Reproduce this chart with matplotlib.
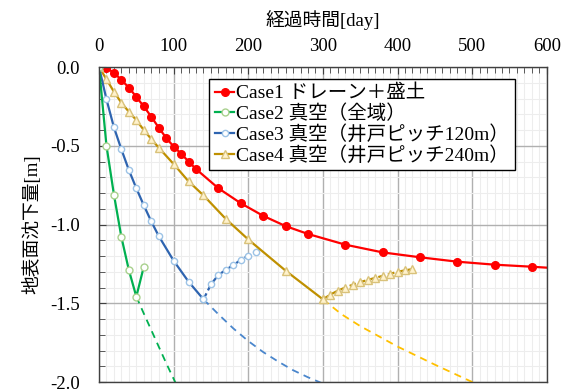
import numpy as np
import matplotlib
matplotlib.use("Agg")
from matplotlib import pyplot as plt
from matplotlib.ticker import MultipleLocator, FormatStrFormatter

plt.rcParams['font.family'] = ['Liberation Serif', 'Noto Sans CJK JP']
plt.rcParams['axes.unicode_minus'] = False

# Case1 drain + embankment
c1_day = [0, 10, 20, 30, 40, 50, 60, 70, 80, 90, 100, 110, 120, 130, 160, 190, 220, 250, 280,
          330, 380, 430, 480, 530, 580, 600]
c1_val = [0, -0.008, -0.035, -0.083, -0.13, -0.19, -0.25, -0.315, -0.385, -0.45, -0.505, -0.55,
          -0.60, -0.648, -0.77, -0.865, -0.945, -1.01, -1.06, -1.128, -1.177, -1.208, -1.236,
          -1.255, -1.268, -1.274]

# Case2 vacuum (whole area)
c2_day = [0, 10, 20, 30, 40, 50, 60]
c2_val = [0, -0.50, -0.81, -1.08, -1.289, -1.458, -1.268]
c2_ext_day = [50, 60, 70, 80, 90, 100, 110]
c2_ext_val = [-1.458, -1.565, -1.67, -1.775, -1.88, -1.98, -2.08]

# Case3 vacuum (well pitch 120m)
c3_day = [0, 10, 20, 30, 40, 50, 60, 70, 80, 100, 120, 140]
c3_val = [0, -0.205, -0.383, -0.523, -0.654, -0.77, -0.878, -0.98, -1.073, -1.23, -1.363, -1.475]
c3_reb_day = [140, 150, 160, 170, 180, 190, 200, 210]
c3_reb_val = [-1.475, -1.38, -1.32, -1.288, -1.257, -1.225, -1.198, -1.172]
c3_ext_day = [140, 160, 180, 200, 220, 240, 260, 280, 300]
c3_ext_val = [-1.475, -1.57, -1.66, -1.74, -1.81, -1.87, -1.925, -1.97, -2.01]

# Case4 vacuum (well pitch 240m)
c4_day = [0, 10, 20, 30, 40, 50, 60, 70, 80, 100, 120, 140, 170, 200, 250, 300]
c4_val = [0, -0.078, -0.157, -0.227, -0.284, -0.337, -0.40, -0.457, -0.512, -0.616, -0.726,
          -0.815, -0.965, -1.095, -1.293, -1.475]
c4_reb_day = [300, 310, 320, 330, 340, 350, 360, 370, 380, 390, 400, 410, 420]
c4_reb_val = [-1.475, -1.445, -1.42, -1.40, -1.382, -1.366, -1.352, -1.339, -1.326, -1.313,
              -1.30, -1.291, -1.283]
c4_ext_day = [300, 325, 350, 400, 450, 500, 510]
c4_ext_val = [-1.475, -1.57, -1.645, -1.775, -1.89, -2.0, -2.02]

labels = ['Case1 ドレーン＋盛土', 'Case2 真空（全域）',
          'Case3 真空（井戸ピッチ120m）', 'Case4 真空（井戸ピッチ240m）']

red = '#FF0000'
green = '#00B050'
blue = '#2E64B0'
gold = '#BF9000'

fig = plt.figure(figsize=(5.69, 3.92), dpi=100)
ax = fig.add_axes([0.174, 0.0255, 0.787, 0.8035])

# extrapolations (dashed)
ax.plot(c2_ext_day, c2_ext_val, ls=(0, (4, 3)), c=green, lw=1.3)
ax.plot(c3_ext_day, c3_ext_val, ls=(0, (4, 3)), c='#4A86CC', lw=1.3)
ax.plot(c4_ext_day, c4_ext_val, ls=(0, (4, 3)), c='#FFC000', lw=1.3)

# rebound curves
ax.plot(c3_reb_day, c3_reb_val, ls=(0, (3, 1.5)), c=blue, lw=1.6,
        marker='o', ms=4.5, mfc='white', mec='#9DC3E6', mew=1.0)
ax.plot(c4_reb_day, c4_reb_val, ls=(0, (3, 1.5)), c=gold, lw=1.6,
        marker='^', ms=5.5, mfc='#FFF2CC', mec='#D9C27A', mew=1.0)

l1, = ax.plot(c1_day, c1_val, c=red, lw=1.6, marker='o', ms=5.5, mfc=red, mec=red,
              markevery=list(range(1, len(c1_day) - 1)), label=labels[0])
l4, = ax.plot(c4_day, c4_val, c=gold, lw=1.6, marker='^', ms=5.5, mfc='#FFF2CC',
              mec='#D9C27A', mew=1.0, label=labels[3])
l3, = ax.plot(c3_day, c3_val, c=blue, lw=1.6, marker='o', ms=4.5, mfc='white',
              mec='#9DC3E6', mew=1.0, label=labels[2])
l2, = ax.plot(c2_day, c2_val, c=green, lw=1.6, marker='o', ms=5, mfc='white',
              mec='#A9D18E', mew=1.0, label=labels[1])

ax.set_xlim(0, 600)
ax.set_ylim(-2.0, 0.0)
ax.xaxis.set_major_locator(MultipleLocator(100))
ax.xaxis.set_minor_locator(MultipleLocator(10))
ax.yaxis.set_major_locator(MultipleLocator(0.5))
ax.yaxis.set_minor_locator(MultipleLocator(0.1))
ax.yaxis.set_major_formatter(FormatStrFormatter('%.1f'))

ax.xaxis.tick_top()
ax.xaxis.set_label_position('top')
ax.tick_params(axis='x', which='both', direction='in', top=True, bottom=False,
               labelsize=13.5, pad=9)
ax.tick_params(axis='y', which='both', direction='in', left=True, right=False,
               labelsize=13.5, pad=14)
ax.tick_params(which='major', length=5, color='#404040')
ax.tick_params(which='minor', length=4, color='#404040')

ax.grid(which='major', color='#B0B0B0', lw=1.0)
ax.grid(which='minor', color='#EDEDED', lw=0.8)
ax.set_axisbelow(True)
for s in ax.spines.values():
    s.set_color('#404040')
    s.set_linewidth(1.0)

ax.set_xlabel('経過時間[day]', fontsize=13.5, labelpad=8)
ax.set_ylabel('地表面沈下量[m]', fontsize=13.5, labelpad=6)

leg = ax.legend(handles=[l1, l2, l3, l4], loc='upper right', bbox_to_anchor=(0.929, 0.962),
                fontsize=14, frameon=True, fancybox=False, edgecolor='black',
                framealpha=1, handlelength=1.0, handletextpad=0.1, labelspacing=0.1,
                borderpad=0.3, borderaxespad=0)
leg.get_frame().set_linewidth(1.0)

fig.savefig('out.png', dpi=100)
